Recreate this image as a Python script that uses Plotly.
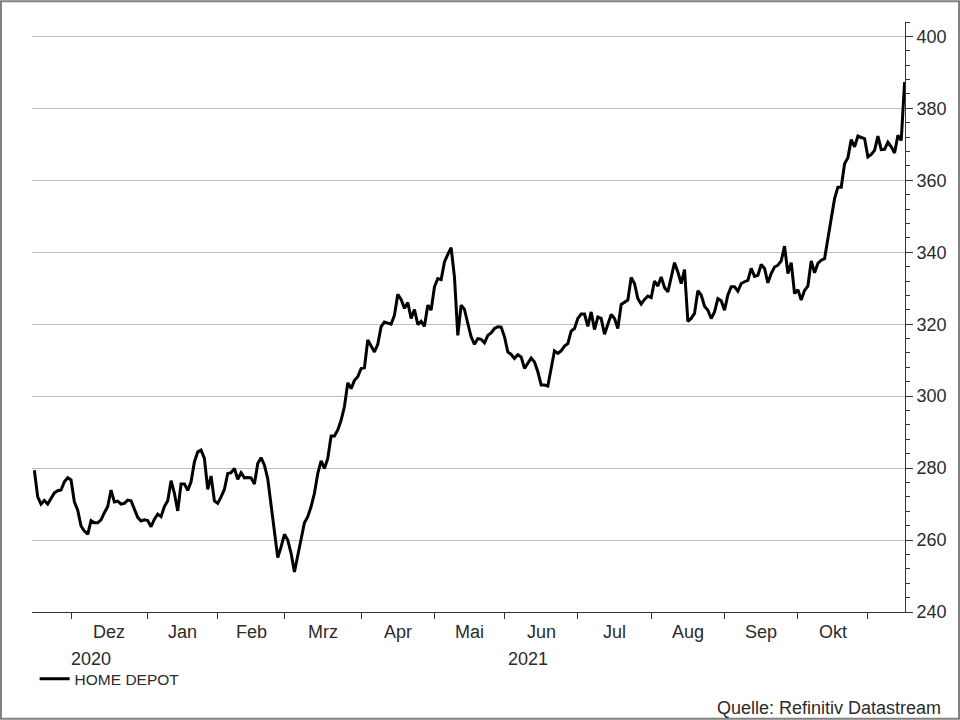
import pandas as pd
import plotly.graph_objects as go

# ---- data (weekday closes) ----
start_date = "2020-11-16"
end_date = "2021-11-16"
series_name = "HOME DEPOT"
values = [
    279.4, 272.0, 270.0, 271.0, 270.0, 271.7, 273.1, 273.7, 273.9, 276.2,
    277.3, 276.7, 270.6, 268.3, 263.9, 262.5, 261.6, 265.4, 264.8, 264.8,
    265.6, 267.6, 269.3, 273.9, 270.6, 270.8, 270.0, 270.2, 271.1, 270.9,
    268.8, 266.3, 265.3, 265.6, 265.4, 263.7, 265.8, 267.2, 266.5, 269.3,
    270.9, 276.5, 273.0, 268.1, 275.6, 275.6, 273.8, 276.2, 281.7, 284.5,
    285.0, 282.7, 274.1, 277.8, 270.9, 270.2, 272.0, 274.1, 278.5, 278.7,
    279.9, 276.9, 278.7, 277.3, 277.4, 277.3, 275.6, 281.3, 282.9, 280.8,
    277.0, 270.0, 263.0, 255.1, 258.1, 261.6, 260.0, 256.3, 251.1, 255.5,
    260.5, 264.8, 266.5, 269.3, 273.0, 278.5, 282.0, 279.9, 282.7, 288.9,
    288.9, 290.6, 293.3, 297.1, 303.7, 302.1, 304.4, 305.4, 307.7, 307.9,
    315.6, 313.9, 312.3, 314.4, 319.3, 320.6, 320.4, 320.0, 322.5, 328.3,
    326.9, 324.4, 326.0, 321.6, 324.1, 319.9, 320.8, 319.4, 325.3, 323.9,
    330.4, 332.7, 332.4, 337.3, 339.4, 341.3, 333.1, 316.9, 325.3, 324.1,
    320.2, 316.5, 314.4, 316.0, 315.8, 314.8, 316.9, 317.6, 318.8, 319.3,
    319.2, 316.5, 312.3, 311.6, 310.5, 311.5, 310.9, 307.7, 309.1, 310.6,
    309.5, 306.8, 303.1, 303.1, 302.8, 307.7, 312.6, 311.9, 312.6, 313.9,
    314.6, 318.1, 318.8, 321.6, 322.8, 322.8, 319.4, 323.4, 318.5, 322.0,
    321.6, 317.2, 320.2, 322.7, 321.6, 318.8, 325.5, 326.2, 326.7, 333.0,
    331.3, 327.1, 325.6, 326.9, 327.8, 327.4, 332.0, 330.6, 333.1, 330.2,
    329.0, 333.0, 337.1, 334.5, 331.3, 335.2, 320.8, 321.6, 323.0, 329.3,
    328.1, 325.0, 323.9, 321.6, 323.4, 327.1, 326.5, 323.9, 328.1, 330.4,
    330.4, 329.2, 331.3, 331.8, 332.2, 335.5, 333.3, 333.6, 336.6, 335.5,
    331.5, 334.1, 335.9, 336.4, 337.6, 341.7, 334.1, 337.1, 328.5, 329.6,
    326.7, 329.4, 330.6, 337.6, 334.3, 336.9, 337.8, 338.2, 343.3, 349.4,
    354.9, 358.1, 358.1, 364.6, 366.3, 371.3, 369.3, 372.3, 371.9, 371.6,
    366.5, 367.2, 368.3, 372.3, 368.5, 368.6, 370.6, 369.3, 367.6, 372.5,
    371.1, 387.3,
]
month_names = ["Dez", "Jan", "Feb", "Mrz", "Apr", "Mai", "Jun", "Jul", "Aug", "Sep", "Okt"]
month_starts = ["2020-12-01", "2021-01-01", "2021-02-01", "2021-03-01", "2021-04-01",
                "2021-05-01", "2021-06-01", "2021-07-01", "2021-08-01", "2021-09-01",
                "2021-10-01", "2021-11-01"]
years = ["2020", "2021"]
y_ticks = [240, 260, 280, 300, 320, 340, 360, 380, 400]
source_text = "Quelle: Refinitiv Datastream"

dates = pd.bdate_range(start_date, end_date)
n = min(len(dates), len(values))
dates = dates[:n]
values = values[:n]

FONT = "Arial, Liberation Sans, sans-serif"
TXT = "#2b2b2b"


def first_bday(d):
    d = pd.Timestamp(d)
    while d.weekday() >= 5:
        d += pd.Timedelta(days=1)
    return d


def bday_mid(a, b):
    days = pd.bdate_range(a, b)
    days = days[days < b]
    half = len(days) / 2.0
    k = int(half)
    return days[k] + pd.Timedelta(days=half - k)


tick_dates = [first_bday(d) for d in month_starts]

fig = go.Figure()
fig.add_trace(go.Scatter(x=dates, y=values, mode="lines", name=series_name,
                         line=dict(color="black", width=3)))

x0 = pd.Timestamp(start_date) - pd.Timedelta(hours=17)
x1 = pd.Timestamp(end_date) + pd.Timedelta(hours=3)

annotations = []
for i, name in enumerate(month_names):
    annotations.append(dict(x=bday_mid(tick_dates[i], tick_dates[i + 1]), y=-0.0335,
                            xref="x", yref="paper", text=name, showarrow=False,
                            yanchor="middle",
                            font=dict(family=FONT, size=18, color=TXT)))
# year labels centred under the visible part of each year
y2020_mid = bday_mid(pd.Timestamp(start_date), tick_dates[1])
y2021_mid = bday_mid(tick_dates[1], pd.Timestamp(end_date) + pd.Timedelta(days=1))
for yr, xm in zip(years, [y2020_mid, y2021_mid]):
    annotations.append(dict(x=xm, y=-0.080, xref="x", yref="paper", text=yr, showarrow=False,
                            yanchor="middle",
                            font=dict(family=FONT, size=18, color=TXT)))
annotations.append(dict(x=1.0435, y=-0.163, xref="paper", yref="paper", text=source_text,
                        showarrow=False, xanchor="right", yanchor="middle",
                        font=dict(family=FONT, size=18, color=TXT)))

fig.update_layout(
    width=960, height=720,
    margin=dict(l=32, r=55, t=22, b=108),
    plot_bgcolor="white", paper_bgcolor="white",
    font=dict(family=FONT, color=TXT),
    showlegend=True,
    legend=dict(x=0.003, y=-0.114, xanchor="left", yanchor="middle",
                font=dict(family=FONT, size=15.5, color=TXT),
                bgcolor="rgba(0,0,0,0)", itemwidth=30),
    annotations=annotations,
    shapes=[dict(type="rect", xref="paper", yref="paper",
                 x0=-0.0355, x1=1.0619, y0=-0.181, y1=1.035,
                 line=dict(color="#808080", width=2), fillcolor="rgba(0,0,0,0)")],
)

fig.update_xaxes(
    type="date", range=[x0, x1],
    rangebreaks=[dict(bounds=["sat", "mon"])],
    tickvals=tick_dates, ticktext=[""] * len(tick_dates),
    ticks="outside", ticklen=6, tickcolor="#333333", tickwidth=1,
    showgrid=False, zeroline=False,
    showline=True, linecolor="#333333", linewidth=1,
)

fig.update_yaxes(
    range=[240, 404], side="right",
    tickvals=y_ticks, ticktext=[str(v) for v in y_ticks],
    ticks="outside", ticklen=7, tickcolor="#333333", tickwidth=1,
    tickfont=dict(family=FONT, size=18, color=TXT),
    showgrid=True, gridcolor="#BDBDBD", gridwidth=1,
    minor=dict(dtick=4, tick0=240, ticks="outside", ticklen=4, tickcolor="#333333", showgrid=False),
    showline=True, linecolor="#333333", linewidth=1, zeroline=False,
)

fig.write_html("out.html", config={"displayModeBar": False},
               post_script="document.body.style.margin='0px';document.body.style.overflow='hidden';")
